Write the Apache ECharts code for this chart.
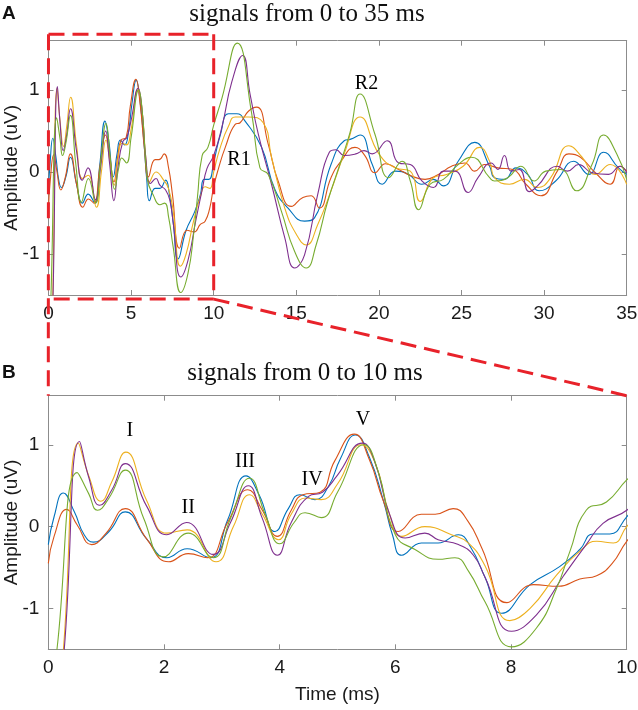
<!DOCTYPE html>
<html><head><meta charset="utf-8">
<script src="https://cdn.jsdelivr.net/npm/echarts@6/dist/echarts.min.js"></script>
<style>html,body{margin:0;padding:0;background:#fff}#c{width:638px;height:710px}</style>
</head><body><div id="c"></div>
<script>
// ---- data (time in ms, amplitude in uV) ----
const seriesColors = ['#0072BD', '#D95319', '#EDB120', '#7E2F8E', '#77AC30'];
const blueData = [[0,-0.22],[0.1,0.12],[0.26,0.41],[0.45,0.18],[0.62,-0.1],[0.78,-0.19],[1.05,-0.06],[1.33,0.18],[1.7,-0.15],[2.05,-0.38],[2.4,-0.27],[2.8,-0.38],[3.1,0.08],[3.42,0.62],[3.65,0.38],[3.92,-0.06],[4.15,0.22],[4.35,0.39],[4.61,0.33],[4.85,0.5],[5.05,0.83],[5.31,1.12],[5.55,0.85],[5.8,0.3],[5.95,-0.1],[6.11,-0.35],[6.45,-0.2],[6.74,-0.2],[7.09,-0.1],[7.3,-0.25],[7.55,-0.62],[7.84,-1.06],[8.33,-0.71],[8.84,-0.49],[9.19,-0.28],[9.42,-0.09],[9.71,-0.09],[10,0.12],[10.4,0.45],[10.9,0.71],[11.4,0.71],[11.9,0.62],[12.9,0.3],[13.7,-0.21],[14.5,-0.44],[15.5,-0.6],[16.1,-0.56],[17.1,0.09],[17.9,0.38],[18.3,0.4],[18.86,0.45],[19.6,0.09],[20.2,-0.15],[21.0,0.01],[21.8,-0.03],[22.6,-0.15],[23.3,-0.09],[23.9,-0.17],[24.8,0.13],[25.8,0.36],[26.7,0.07],[27.0,-0.07],[27.6,-0.09],[28.3,0.05],[29.0,-0.03],[29.7,-0.23],[30.7,-0.11],[31.8,0.13],[32.7,-0.03],[33.6,0.24],[34.5,0.05],[35,-0.03]];
const redData = [[0,-0.45],[0.1,-0.12],[0.32,0.21],[0.5,0.02],[0.75,-0.22],[1.0,-0.08],[1.33,0.22],[1.7,-0.15],[2.08,-0.43],[2.42,-0.33],[2.75,-0.38],[3.1,0.05],[3.45,0.45],[3.7,0.2],[3.96,-0.12],[4.2,0.2],[4.4,0.39],[4.7,0.42],[4.95,0.8],[5.29,1.13],[5.55,0.82],[5.8,0.3],[6.05,-0.06],[6.45,0.15],[6.69,0.15],[7.0,0.22],[7.26,0.06],[7.5,-0.27],[7.93,-0.93],[8.39,-0.71],[8.82,-0.73],[9.19,-0.64],[9.48,-0.6],[9.75,-0.45],[10,-0.18],[10.3,0.05],[10.7,0.3],[11.3,0.58],[11.6,0.6],[12.1,0.74],[12.6,0.79],[13.3,0.34],[13.9,-0.11],[14.7,-0.42],[15.4,-0.31],[15.9,-0.29],[16.4,-0.44],[17.1,-0.07],[17.7,0.13],[18.55,0.3],[19.15,0.2],[19.76,-0.01],[20.4,0.1],[21.2,0.03],[21.98,-0.05],[22.8,-0.09],[23.6,-0.03],[24.4,0.07],[25.2,0.11],[25.8,0.01],[26.4,0.09],[27.2,0.05],[28.1,0.03],[28.9,-0.15],[29.8,-0.29],[30.8,0.01],[31.5,0.22],[32.2,0.18],[33.1,-0.01],[34.0,-0.15],[34.6,0.07],[35,0.01]];
const yellowData = [[0,-3.2],[0.25,-1.6],[0.52,1.02],[0.7,0.62],[0.91,0.31],[1.1,0.55],[1.34,0.91],[1.7,0.32],[2.05,-0.08],[2.4,-0.04],[2.9,-0.43],[3.2,0.0],[3.48,0.39],[3.7,0.15],[3.98,-0.16],[4.2,0.15],[4.45,0.35],[4.72,0.33],[5.0,0.52],[5.41,1.0],[5.65,0.78],[5.9,0.15],[6.11,-0.12],[6.51,0.0],[6.97,-0.1],[7.26,-0.2],[7.55,-0.48],[7.98,-1.15],[8.33,-1.0],[8.79,-0.59],[9.19,-0.3],[9.48,-0.18],[9.77,-0.2],[10,0.0],[10.4,0.3],[10.9,0.56],[11.3,0.67],[12.1,0.67],[13.0,0.6],[13.5,0.18],[14.3,-0.44],[15.0,-0.76],[15.6,-0.89],[16.3,-0.64],[17.1,-0.23],[17.9,0.22],[18.86,0.67],[20.0,0.22],[21.0,0.05],[21.9,0.01],[22.5,-0.36],[23.3,-0.07],[24.1,-0.03],[25.1,0.07],[26.1,0.3],[26.7,0.13],[27.0,-0.07],[27.9,-0.15],[28.8,-0.09],[29.6,-0.19],[30.4,-0.07],[31.5,0.32],[32.3,0.18],[33.1,-0.03],[34.0,0.09],[35,-0.15]];
const purpleData = [[0,-3.4],[0.27,-1.55],[0.54,1.04],[0.7,0.6],[0.89,0.26],[1.1,0.45],[1.33,0.77],[1.7,0.25],[2.05,-0.1],[2.39,0.05],[2.85,-0.34],[3.15,0.05],[3.46,0.5],[3.7,0.1],[3.96,-0.35],[4.2,0.05],[4.5,0.37],[4.74,0.42],[5.0,0.63],[5.43,1.02],[5.65,0.78],[5.9,0.15],[6.17,-0.14],[6.51,-0.08],[6.74,-0.16],[7.09,-0.22],[7.35,-0.35],[7.55,-0.62],[8.01,-1.28],[8.44,-1.08],[8.9,-0.61],[9.3,-0.22],[9.59,0.04],[10,0.2],[10.5,0.55],[11.1,1.1],[11.75,1.42],[12.2,0.95],[12.7,0.46],[13.5,-0.15],[14.3,-0.8],[14.9,-1.17],[15.5,-1.01],[16.3,-0.27],[17.0,0.24],[17.4,0.27],[17.9,0.2],[18.6,0.22],[19.1,0.26],[19.6,0.22],[20.5,0.38],[21.2,0.11],[21.9,0.09],[22.6,-0.11],[23.3,-0.19],[23.9,0.01],[24.6,0.01],[25.4,-0.25],[26.0,-0.07],[26.8,0.11],[27.2,0.03],[27.6,0.2],[28.0,0.01],[28.5,0.03],[29.1,-0.24],[29.6,-0.17],[30.8,0.07],[31.4,0.01],[32.1,0.09],[32.9,-0.01],[33.9,-0.03],[34.6,0.07],[35,-0.01]];
const greenData = [[0,-2.4],[0.15,-1.5],[0.5,0.66],[0.7,0.4],[0.85,0.2],[1.05,0.35],[1.33,0.69],[1.65,0.1],[1.99,-0.37],[2.42,-0.08],[2.85,-0.38],[3.15,0.1],[3.48,0.59],[3.75,0.15],[4.0,-0.21],[4.25,0.05],[4.44,0.17],[4.72,0.11],[5.0,0.42],[5.46,1.0],[5.7,0.68],[6.0,-0.1],[6.34,-0.28],[6.74,-0.4],[7.03,-0.38],[7.27,-0.55],[7.55,-0.92],[8.01,-1.47],[8.44,-1.24],[8.79,-0.75],[9.02,-0.3],[9.3,0.2],[9.65,0.3],[10,0.57],[10.5,0.9],[11.43,1.57],[12.3,0.71],[12.8,0.05],[13.3,-0.03],[14.1,-0.48],[14.9,-0.97],[15.6,-1.17],[16.2,-0.89],[16.9,-0.36],[17.7,0.13],[18.25,0.48],[18.86,0.95],[19.76,0.46],[20.6,-0.07],[21.4,0.13],[21.9,-0.11],[22.4,-0.46],[23.1,-0.15],[23.9,-0.09],[24.8,0.09],[25.6,0.18],[26.7,-0.07],[27.0,-0.11],[27.8,-0.07],[28.6,0.07],[29.4,-0.11],[30.1,0.01],[31.0,0.03],[31.97,-0.23],[32.9,0.09],[33.6,0.45],[34.4,0.22],[35,-0.09]];
const allData = [blueData, redData, yellowData, purpleData, greenData];

const yTicks = [-1, 0, 1];
const xRangeA = [0, 35], xIntervalA = 5;
const xRangeB = [0, 10], xIntervalB = 2;
const yRange = [-1.5, 1.6];
const annotationsA = [[11.53, 0.15, 'R1'], [19.25, 1.08, 'R2']];
const annotationsB = [[1.41, 1.17, 'I'], [2.42, 0.23, 'II'], [3.40, 0.79, 'III'], [4.56, 0.57, 'IV'], [5.44, 1.30, 'V']];
const zoomBox = {x0: 0, x1: 10, yTop: 1.68, yBottom: -1.55};
const titleA = 'signals from 0 to 35 ms';
const titleB = 'signals from 0 to 10 ms';

// ---- styling ----
const sans = 'Liberation Sans, Arial, sans-serif';
const serif = 'Liberation Serif, Times New Roman, serif';
const axisGray = '#8c8c8c';
const txt = '#1a1a1a';

function xAxisPair(gridIndex, range, interval, withName) {
  const bottom = {
    type: 'value', gridIndex, min: range[0], max: range[1], interval, position: 'bottom',
    axisLine: {show: true, onZero: false, lineStyle: {color: axisGray, width: 1}},
    axisTick: {show: true, inside: true, length: 5, lineStyle: {color: axisGray}},
    axisLabel: {show: true, margin: 9, color: txt, fontSize: 19, fontFamily: sans},
    splitLine: {show: false}
  };
  if (withName) {
    bottom.name = 'Time (ms)';
    bottom.nameLocation = 'middle';
    bottom.nameGap = 36;
    bottom.nameMoveOverlap = false;
    bottom.nameTextStyle = {color: txt, fontSize: 19, fontFamily: sans};
  }
  const top = {
    type: 'value', gridIndex, min: range[0], max: range[1], interval, position: 'top',
    axisLine: {show: true, onZero: false, lineStyle: {color: axisGray, width: 1}},
    axisTick: {show: true, inside: true, length: 5, lineStyle: {color: axisGray}},
    axisLabel: {show: false}, splitLine: {show: false}
  };
  return [bottom, top];
}
function yAxisPair(gridIndex) {
  const left = {
    type: 'value', gridIndex, min: yRange[0], max: yRange[1], position: 'left',
    name: 'Amplitude (uV)', nameLocation: 'middle', nameGap: 27, nameMoveOverlap: false,
    nameTextStyle: {color: txt, fontSize: 19, fontFamily: sans},
    axisLine: {show: true, onZero: false, lineStyle: {color: axisGray, width: 1}},
    axisTick: {show: true, inside: true, length: 5, customValues: yTicks, lineStyle: {color: axisGray}},
    axisLabel: {show: true, margin: 9, color: txt, fontSize: 19, fontFamily: sans, customValues: yTicks},
    splitLine: {show: false}
  };
  const right = {
    type: 'value', gridIndex, min: yRange[0], max: yRange[1], position: 'right',
    axisLine: {show: true, onZero: false, lineStyle: {color: axisGray, width: 1}},
    axisTick: {show: true, inside: true, length: 5, customValues: yTicks, lineStyle: {color: axisGray}},
    axisLabel: {show: false}, splitLine: {show: false}
  };
  return [left, right];
}

const xA = xAxisPair(0, xRangeA, xIntervalA, false);
const xB = xAxisPair(1, xRangeB, xIntervalB, true);
const yA = yAxisPair(0);
const yB = yAxisPair(1);

const series = [];
allData.forEach((d, i) => {
  [[0, 0], [2, 2]].forEach(([xi, yi]) => {
    series.push({
      type: 'line', data: d, xAxisIndex: xi, yAxisIndex: yi,
      showSymbol: false, symbol: 'none', smooth: 0.5,
      lineStyle: {color: seriesColors[i], width: 1.1}, silent: true, clip: true, z: 2 + i
    });
  });
});
function annotSeries(list, xi, yi) {
  return {
    type: 'scatter', xAxisIndex: xi, yAxisIndex: yi, symbolSize: 0, silent: true, z: 10,
    itemStyle: {color: '#000', opacity: 1},
    data: list.map(a => ({value: [a[0], a[1]], name: a[2]})),
    label: {show: true, position: 'inside', formatter: p => p.name, opacity: 1,
      color: '#000', fontSize: 20, fontFamily: serif, textBorderWidth: 0, textBorderColor: 'transparent'}
  };
}
series.push(annotSeries(annotationsA, 0, 0));
series.push(annotSeries(annotationsB, 2, 2));

const chart = echarts.init(document.getElementById('c'), null, {renderer: 'canvas'});
chart.setOption({
  animation: false,
  backgroundColor: '#ffffff',
  grid: [
    {left: 48.5, right: 11.3, top: 40.7, height: 254.3, containLabel: false, outerBoundsMode: 'none'},
    {left: 48.3, right: 11.3, top: 395.7, height: 253.6, containLabel: false, outerBoundsMode: 'none'}
  ],
  xAxis: [xA[0], xA[1], xB[0], xB[1]],
  yAxis: [yA[0], yA[1], yB[0], yB[1]],
  series
});

// decorations: titles, panel letters, zoom indicator
const pA = (x, y) => chart.convertToPixel({xAxisIndex: 0, yAxisIndex: 0}, [x, y]);
const pB = (x, y) => chart.convertToPixel({xAxisIndex: 2, yAxisIndex: 2}, [x, y]);
const tl = pA(zoomBox.x0, zoomBox.yTop), tr = pA(zoomBox.x1, zoomBox.yTop);
const bl = pA(zoomBox.x0, zoomBox.yBottom), br = pA(zoomBox.x1, zoomBox.yBottom);
const bTopL = pB(xRangeB[0], yRange[1]), bTopR = pB(xRangeB[1], yRange[1]);
const dash = {stroke: '#e8222a', lineWidth: 3, lineDash: [16, 8]};
const line = (a, b) => ({type: 'line', shape: {x1: a[0], y1: a[1], x2: b[0], y2: b[1]}, style: dash, z: 50, silent: true});
const text = (x, y, t, font, align) => ({type: 'text', x, y, silent: true, z: 60,
  style: {text: t, font, fill: '#111', textAlign: align || 'center', textVerticalAlign: 'middle'}});

chart.setOption({
  graphic: [
    line(tl, tr), line(tr, br), line(br, bl), line([tl[0], tl[1]], [bTopL[0], bTopL[1]]),
    line(br, bTopR),
    text(307, 14, titleA, '25px ' + serif),
    text(305, 373, titleB, '25px ' + serif),
    text(2, 14, 'A', 'bold 19px ' + sans, 'left'),
    text(2, 373, 'B', 'bold 19px ' + sans, 'left')
  ]
});
</script>
</body></html>
